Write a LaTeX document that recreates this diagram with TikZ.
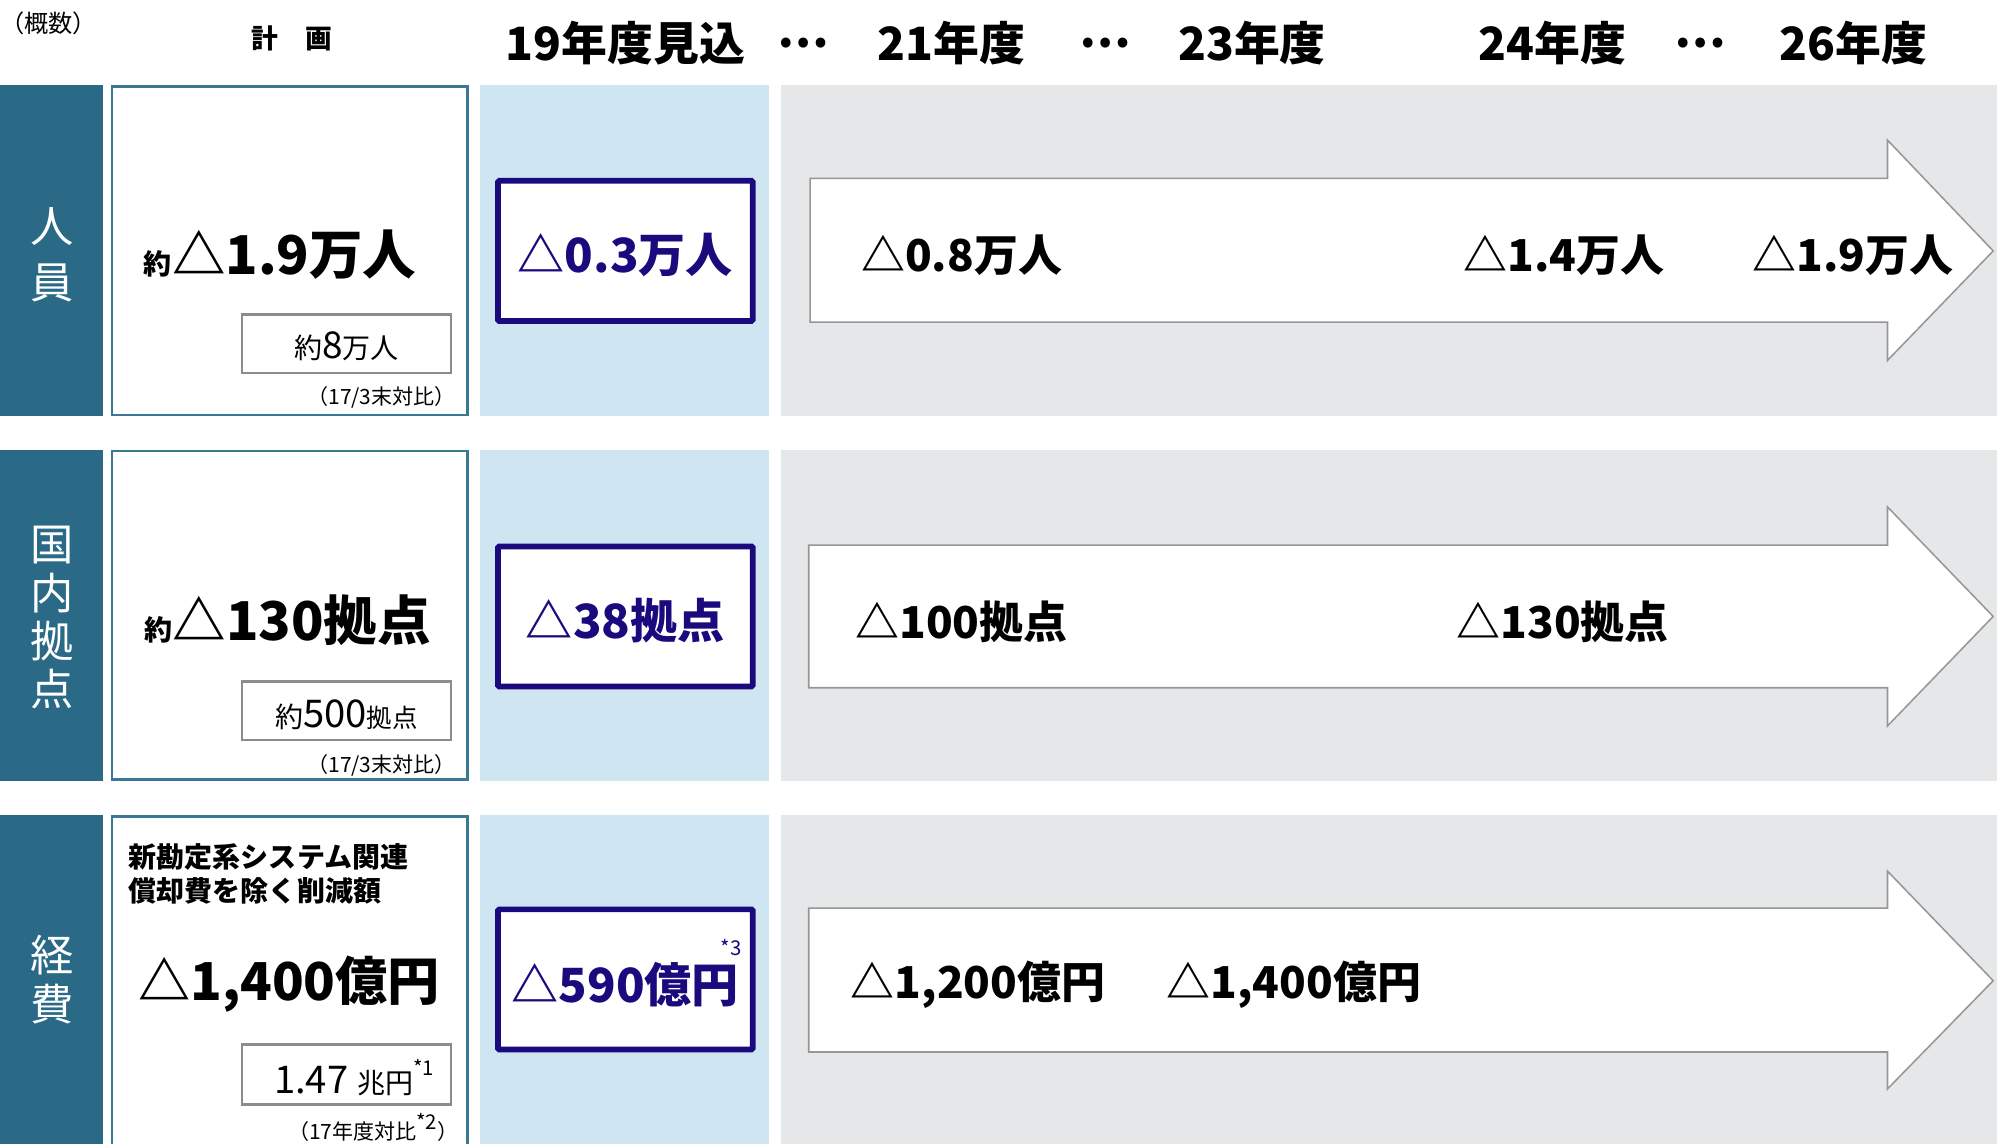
\documentclass[tikz,border=0pt]{standalone}
\usepackage{fontspec}
\setmainfont{Noto Sans CJK JP}
\newcommand\myfs[2]{\fontsize{#1}{#2}\selectfont}
\definecolor{labteal}{RGB}{42,106,135}
\definecolor{boxteal}{RGB}{58,120,150}
\definecolor{lblue}{RGB}{207,229,241}
\definecolor{lgray}{RGB}{230,231,233}
\definecolor{navy}{RGB}{25,10,125}
\definecolor{sgray}{RGB}{140,140,140}
\definecolor{agray}{RGB}{150,150,150}
\begin{document}
\begin{tikzpicture}[x=1pt,y=-1pt,
  every node/.style={inner sep=0pt},
  hd/.style={font=\bfseries\myfs{36}{36}},
  lab/.style={text=white, align=center},
  planbox/.style={draw=boxteal, line width=2pt, fill=white},
  smallbox/.style={draw=sgray, line width=2pt, fill=white},
  navybox/.style={draw=navy, line width=4.5pt, fill=white, rounded corners=1pt},
  bignum/.style={font=\bfseries\myfs{41}{41}},
  navytext/.style={text=navy, font=\bfseries\myfs{37}{37}},
  arrtext/.style={font=\bfseries\myfs{34.5}{34.5}},
  note/.style={font=\myfs{16.5}{16.5}},
  arrowshape/.style={draw=agray, line width=1.2pt, fill=white, line join=miter}
]
\useasboundingbox (0,0) rectangle (1568,898);
\clip (0,0) rectangle (1568,898);
\fill[white] (0,0) rectangle (1568,898);

% header
\node[anchor=west, font=\myfs{19}{19}] (gaisu) at (0,18) {（概数）};
\node[font=\bfseries\myfs{21}{21}] (keikaku) at (229,30) {計　画};
\node[hd] (h19) at (491,34) {19年度見込};
\node[hd] (d1) at (631,34) {…};
\node[hd] (h21) at (747,34) {21年度};
\node[hd] (d2) at (868,34) {…};
\node[hd] (h23) at (983,34) {23年度};
\node[hd] (h24) at (1219,34) {24年度};
\node[hd] (d3) at (1335,34) {…};
\node[hd] (h26) at (1455,34) {26年度};

% ---------- row backgrounds ----------
\foreach \t/\b in {67/327, 353/613, 640/920}{
  \fill[labteal] (0,\t) rectangle (81,\b);
  \draw[planbox] (88,\t+1) rectangle (367,\b-1);
  \fill[lblue] (377,\t) rectangle (604,\b);
  \fill[lgray] (613,\t) rectangle (1568,\b);
}

% ---------- row 1 ----------
\node[lab, font=\myfs{34}{44}] (l1) at (41,200) {人\\員};
\node[anchor=center] (p1) at (220,200)
  {{\bfseries\myfs{22}{22}約}{\bfseries\myfs{42}{42}△1.9万人}};
\draw[smallbox] (190,247) rectangle (354,293);
\node (s1) at (272,272) {{\myfs{22}{22}約}{\myfs{29}{29}8}{\myfs{22}{22}万人}};
\node[note, anchor=east] (n1) at (358,312) {（17/3末対比）};
\draw[navybox] (391,142) rectangle (591,252);
\node[navytext] (e1) at (491,200) {△0.3万人};
\draw[arrowshape] (636,140) -- (1482,140) -- (1482,110) -- (1565,197)
  -- (1482,283) -- (1482,253) -- (636,253) -- cycle;
\node[arrtext] (a11) at (755,200) {△0.8万人};
\node[arrtext] (a12) at (1228,200) {△1.4万人};
\node[arrtext] (a13) at (1455,200) {△1.9万人};

% ---------- row 2 ----------
\node[lab, font=\myfs{34}{38}] (l2) at (41,485) {国\\内\\拠\\点};
\node[anchor=center] (p2) at (226,487)
  {{\bfseries\myfs{22}{22}約}{\bfseries\myfs{42}{42}△130拠点}};
\draw[smallbox] (190,535) rectangle (354,581);
\node (s2) at (272,561) {{\myfs{22}{22}約}{\myfs{30}{30}500}{\myfs{20}{20}拠点}};
\node[note, anchor=east] (n2) at (358,601) {（17/3末対比）};
\draw[navybox] (391,429) rectangle (591,539);
\node[navytext] (e2) at (491,487) {△38拠点};
\draw[arrowshape] (635,428) -- (1482,428) -- (1482,398) -- (1565,484)
  -- (1482,570) -- (1482,540) -- (635,540) -- cycle;
\node[arrtext] (a21) at (755,488) {△100拠点};
\node[arrtext] (a22) at (1227,488) {△130拠点};

% ---------- row 3 ----------
\node[lab, font=\myfs{34}{38}] (l3) at (41,769) {経\\費};
\node[anchor=north west, align=left, font=\bfseries\myfs{22}{27}] (c3) at (101,662)
  {新勘定系システム関連\\償却費を除く削減額};
\node[bignum] (p3) at (227,773) {△1,400億円};
\draw[smallbox] (190,820) rectangle (354,867);
\node (s3) at (278,846) {{\myfs{30}{30}1.47}\hspace{7pt}{\myfs{22}{22}兆円}\raisebox{14pt}{\myfs{16}{16}*1}};
\node[note, anchor=east] (n3) at (360,885) {（17年度対比\raisebox{8pt}{\myfs{16}{16}*2}）};
\draw[navybox] (391,714) rectangle (591,824);
\node[navytext] (e3) at (491,773) {△590億円};
\node[text=navy, font=\myfs{16}{16}] (st3) at (574,744) {*3};
\draw[arrowshape] (635,713) -- (1482,713) -- (1482,684) -- (1565,770)
  -- (1482,855) -- (1482,826) -- (635,826) -- cycle;
\node[arrtext] (a31) at (768,773) {△1,200億円};
\node[arrtext] (a32) at (1016,773) {△1,400億円};
\end{tikzpicture}
\end{document}
